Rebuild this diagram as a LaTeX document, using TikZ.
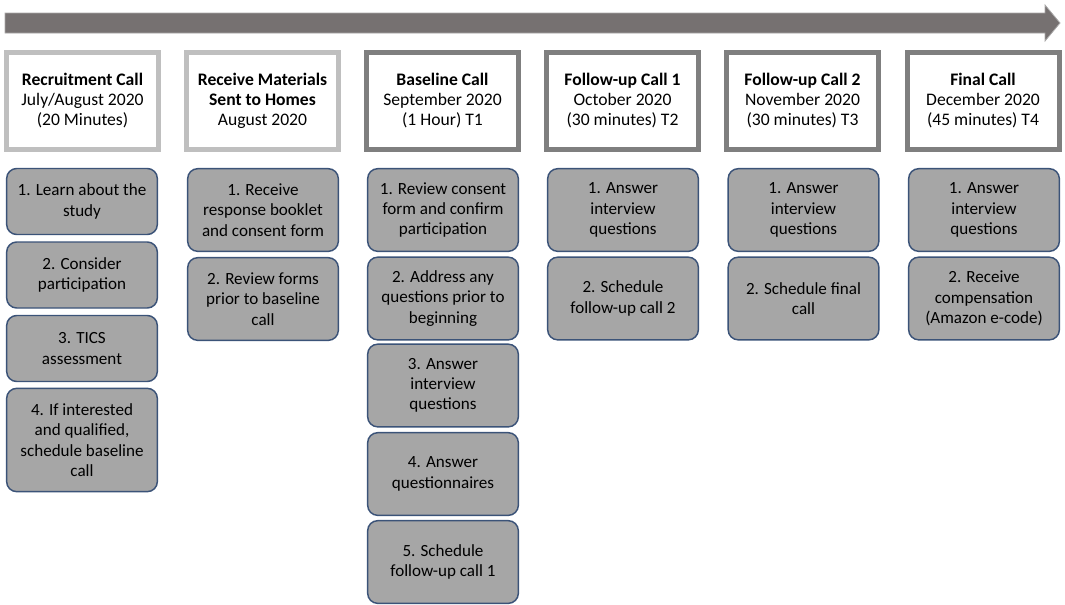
\documentclass[tikz,border=0pt]{standalone}
\usepackage{fontspec}
\setmainfont{Carlito}
\definecolor{arrowgray}{HTML}{767171}
\definecolor{lightedge}{HTML}{BFBFBF}
\definecolor{darkedge}{HTML}{7F7F7F}
\definecolor{boxfill}{HTML}{A6A6A6}
\definecolor{boxedge}{HTML}{3B5378}
\begin{document}
\begin{tikzpicture}[x=0.75pt,y=-0.75pt,
  hdr/.style={draw, line width=3.75pt, fill=white, minimum width=114pt, minimum height=72.75pt,
    inner sep=0pt, align=center, font=\fontsize{13.2}{15}\selectfont},
  hdrlight/.style={hdr, draw=lightedge},
  hdrdark/.style={hdr, draw=darkedge},
  stepbox/.style={draw=boxedge, line width=1.1pt, fill=boxfill, rounded corners=7.5pt,
    minimum width=113pt, inner sep=0pt, align=center, font=\fontsize{12.8}{15.2}\selectfont},
  two/.style={stepbox, minimum height=49.5pt},
  three/.style={stepbox, minimum height=62pt},
  four/.style={stepbox, minimum height=77.5pt}]
\useasboundingbox (0,0) rectangle (1065,604);
% timeline arrow
\fill[arrowgray, draw=lightedge!70!arrowgray, line width=0.6pt]
  (5,13) -- (1045,13) -- (1045,5) -- (1060,23) -- (1045,41) -- (1045,33) -- (5,33) -- cycle;
% headers
\node[hdrlight] (h1) at (82.5,101) {\textbf{Recruitment Call}\\July/August 2020\\(20 Minutes)};
\node[hdrlight] (h2) at (262.5,101) {\textbf{Receive Materials}\\\textbf{Sent to Homes}\\August 2020};
\node[hdrdark] (h3) at (442.5,101) {\textbf{Baseline Call}\\September 2020\\(1 Hour) T1};
\node[hdrdark] (h4) at (622.5,101) {\textbf{Follow-up Call 1}\\October 2020\\(30 minutes) T2};
\node[hdrdark] (h5) at (802.5,101) {\textbf{Follow-up Call 2}\\November 2020\\(30 minutes) T3};
\node[hdrdark] (h6) at (983,101) {\textbf{Final Call}\\December 2020\\(45 minutes) T4};
% column 1
\node[two] (c1a) at (82,201.5) {1. Learn about the\\study};
\node[two] (c1b) at (82,275) {2. Consider\\participation};
\node[two] (c1c) at (82,348.5) {3. TICS\\assessment};
\node[four] (c1d) at (82,440) {4. If interested\\and qualified,\\schedule baseline\\call};
% column 2
\node[three] (c2a) at (263,210) {1. Receive\\response booklet\\and consent form};
\node[three] (c2b) at (263,299) {2. Review forms\\prior to baseline\\call};
% column 3
\node[three] (c3a) at (443,210) {1. Review consent\\form and confirm\\participation};
\node[three] (c3b) at (443,298.5) {2. Address any\\questions prior to\\beginning};
\node[three] (c3c) at (443,385.5) {3. Answer\\interview\\questions};
\node[three] (c3d) at (443,474) {4. Answer\\questionnaires};
\node[three] (c3e) at (443,562) {5. Schedule\\follow-up call 1};
% column 4
\node[three] (c4a) at (623,210) {1. Answer\\interview\\questions};
\node[three] (c4b) at (623,298.5) {2. Schedule\\follow-up call 2};
% column 5
\node[three] (c5a) at (803.5,210) {1. Answer\\interview\\questions};
\node[three] (c5b) at (803.5,298.5) {2. Schedule final\\call};
% column 6
\node[three] (c6a) at (984,210) {1. Answer\\interview\\questions};
\node[three] (c6b) at (984,298.5) {2. Receive\\compensation\\(Amazon e-code)};
\end{tikzpicture}
\end{document}
